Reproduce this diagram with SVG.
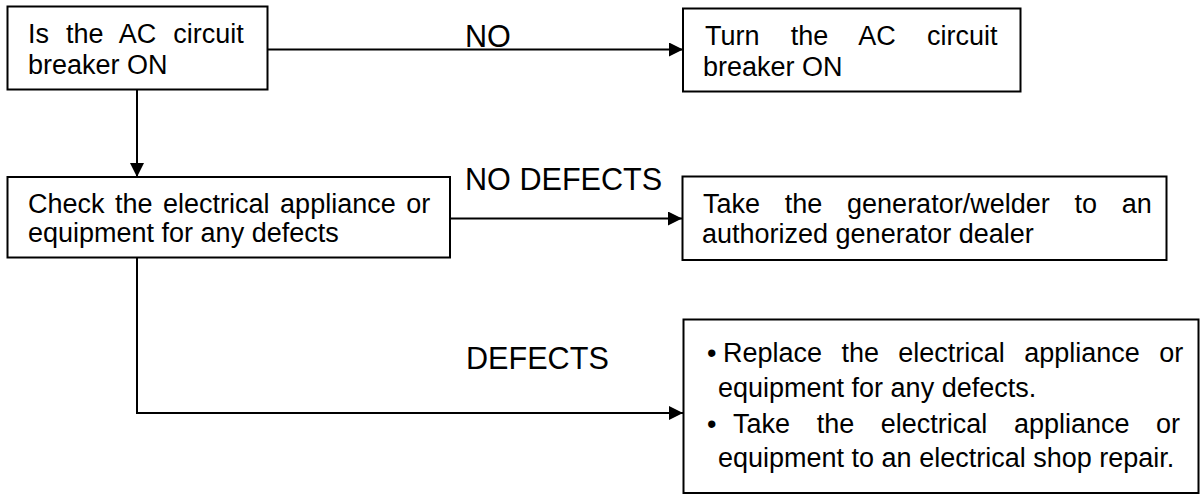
<svg xmlns="http://www.w3.org/2000/svg" width="1200" height="496" viewBox="0 0 1200 496">
<style>
.box{fill:#fff;stroke:#000;stroke-width:2}
.t{font-family:"Liberation Sans",Arial,sans-serif;font-size:27px;fill:#000}
.lbl{font-family:"Liberation Sans",Arial,sans-serif;font-size:30.6px;fill:#000}
.con{fill:none;stroke:#000;stroke-width:2}
</style>
<defs>
<marker id="arr" markerUnits="userSpaceOnUse" markerWidth="16" markerHeight="16" refX="14" refY="7" orient="auto">
<path d="M0,0 L14,7 L0,14 Z" fill="#000"/>
</marker>
</defs>
<rect width="1200" height="496" fill="#fff"/>
<g id="connectors">
<path class="con" d="M268,49.5 H683" marker-end="url(#arr)"/>
<path class="con" d="M137,89 V177" marker-end="url(#arr)"/>
<path class="con" d="M450,218.5 H682" marker-end="url(#arr)"/>
<path class="con" d="M137,258 V413 H683" marker-end="url(#arr)"/>
</g>
<g id="labels">
<text class="lbl" x="465" y="47">NO</text>
<text class="lbl" x="465" y="190">NO DEFECTS</text>
<text class="lbl" x="466" y="369">DEFECTS</text>
</g>
<g id="node-ac-on">
<rect class="box" x="7.5" y="6.5" width="260" height="83"/>
<text class="t" x="28" y="43" word-spacing="9.4">Is the AC circuit</text>
<text class="t" x="28" y="74">breaker ON</text>
</g>
<g id="node-turn-on">
<rect class="box" x="683" y="8.5" width="337.5" height="83"/>
<text class="t" x="705" y="45" word-spacing="23.8">Turn the AC circuit</text>
<text class="t" x="703" y="76">breaker ON</text>
</g>
<g id="node-check">
<rect class="box" x="7.5" y="177" width="442.5" height="80.5"/>
<text class="t" x="28" y="213" word-spacing="3">Check the electrical appliance or</text>
<text class="t" x="28" y="242">equipment for any defects</text>
</g>
<g id="node-dealer">
<rect class="box" x="682.5" y="176.5" width="484" height="83.5"/>
<text class="t" x="703" y="213" word-spacing="17.25">Take the generator/welder to an</text>
<text class="t" x="702" y="243">authorized generator dealer</text>
</g>
<g id="node-replace">
<rect class="box" x="683.5" y="319.5" width="515" height="173.5"/>
<text class="t" x="707" y="362">•</text>
<text class="t" x="723" y="362" word-spacing="11.85">Replace the electrical appliance or</text>
<text class="t" x="718" y="397">equipment for any defects.</text>
<text class="t" x="707" y="433">•</text>
<text class="t" x="733" y="433" word-spacing="19.1">Take the electrical appliance or</text>
<text class="t" x="718" y="467">equipment to an electrical shop repair.</text>
</g>
</svg>
